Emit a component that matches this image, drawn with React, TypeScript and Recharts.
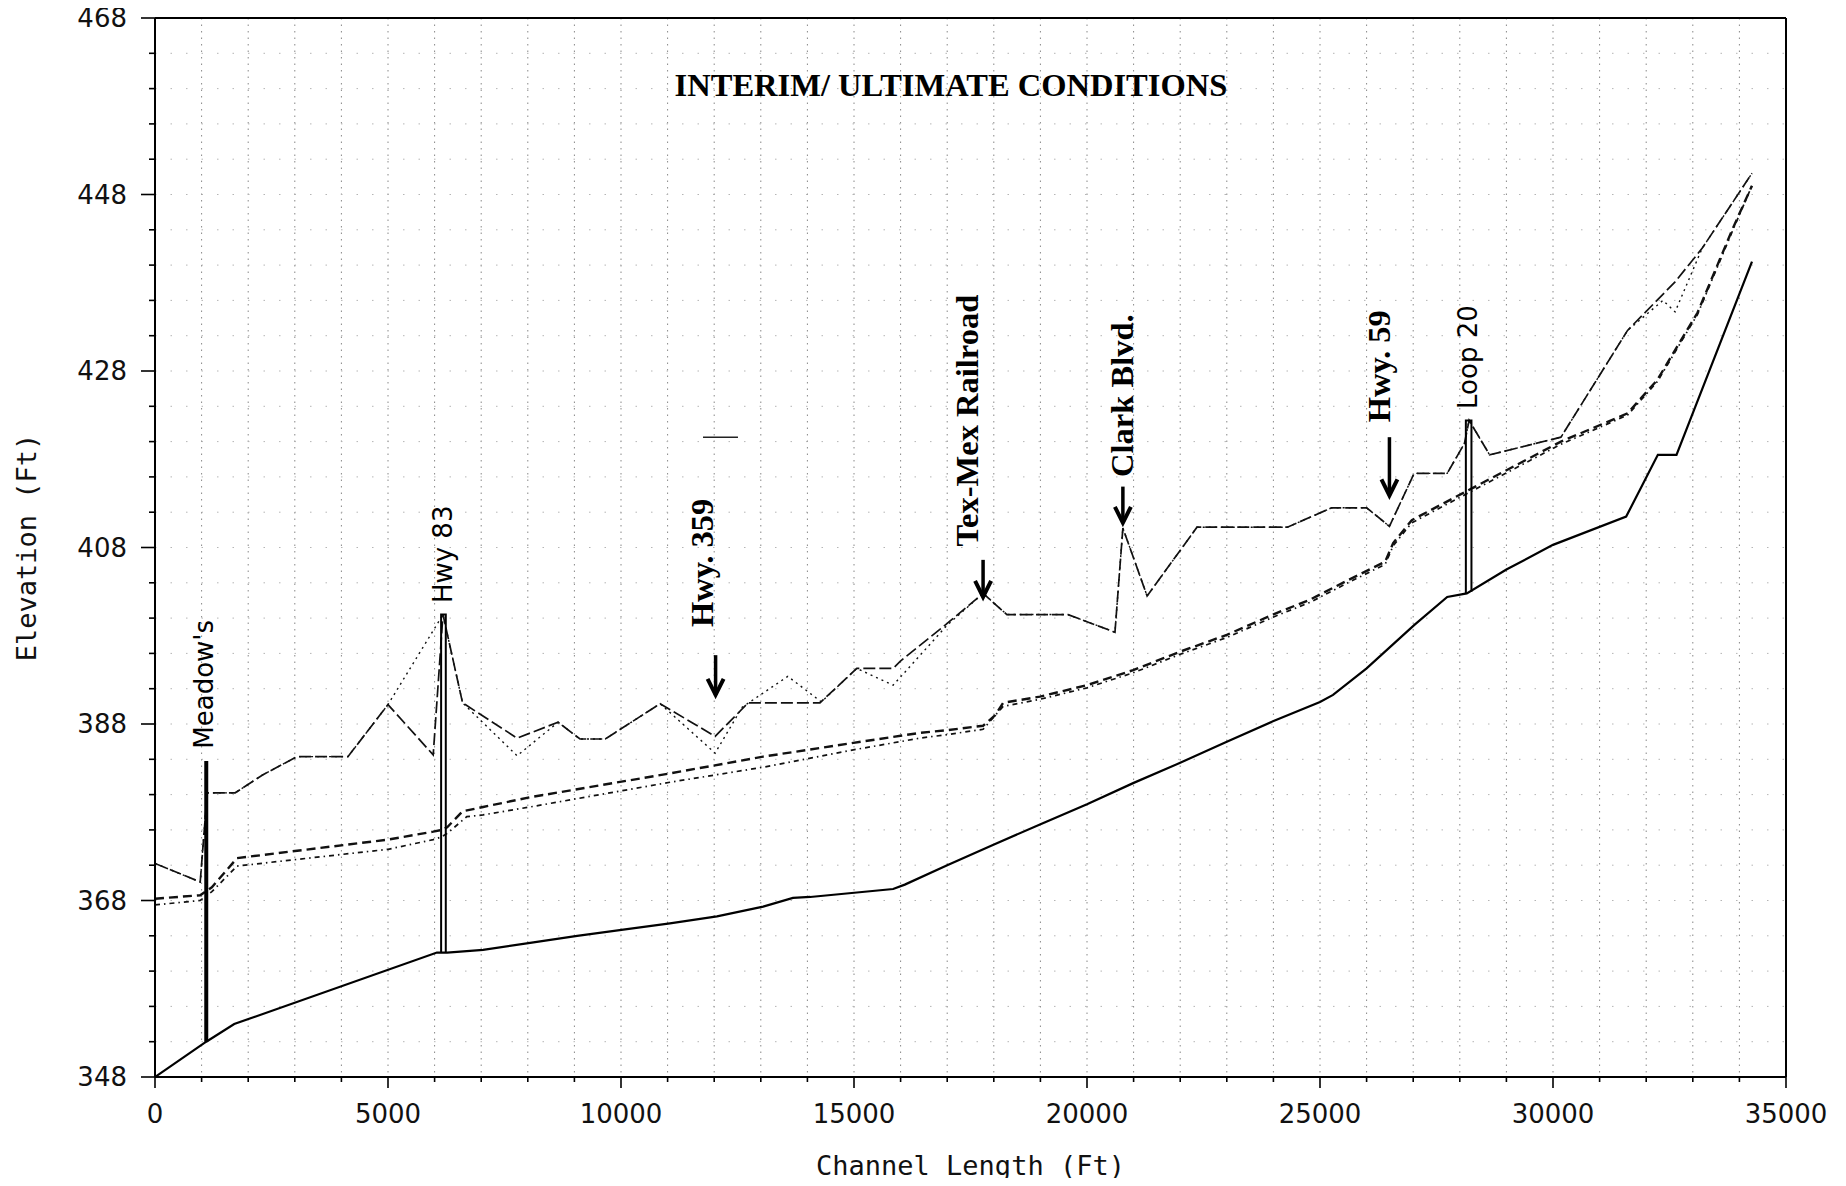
import React from 'react';
import { LineChart, Line, XAxis, YAxis, CartesianGrid, ReferenceLine, ReferenceDot } from 'recharts';

// Channel profile, stations and elevations in feet
const bedStation = [0, 1100, 1700, 6050, 6270, 7040, 8050, 9060, 10050, 11050, 12060, 13050, 13690, 14060, 15840, 16090, 17000, 17980, 18990, 20000, 20990, 22000, 23000, 23990, 25000, 25280, 26000, 27020, 27730, 28150, 29000, 30000, 31570, 32250, 32650, 34270];
const bedElev = [348.0, 352.0, 354.0, 362.1, 362.1, 362.4, 363.2, 364.0, 364.7, 365.4, 366.2, 367.3, 368.3, 368.4, 369.3, 369.8, 372.0, 374.3, 376.6, 378.9, 381.3, 383.6, 386.0, 388.3, 390.5, 391.3, 394.3, 399.2, 402.4, 402.8, 405.5, 408.3, 411.5, 418.5, 418.5, 440.4];

const upperDashStation = [0, 970, 1120, 1720, 2300, 3050, 4140, 5000, 5970, 6180, 6600, 7770, 8650, 9120, 9660, 10840, 12020, 12730, 14270, 15060, 15840, 15990, 17000, 17770, 18280, 19590, 20600, 20770, 21290, 22360, 24300, 25250, 26000, 26490, 27020, 27730, 28100, 28200, 28640, 30170, 31600, 32620, 33200, 34270];
const upperDashElev = [372.2, 370.1, 380.2, 380.2, 382.2, 384.3, 384.3, 390.2, 384.5, 400.4, 390.4, 386.4, 388.2, 386.3, 386.3, 390.3, 386.6, 390.4, 390.4, 394.3, 394.3, 395.1, 399.4, 402.8, 400.4, 400.4, 398.4, 410.2, 402.5, 410.3, 410.3, 412.5, 412.5, 410.4, 416.4, 416.4, 419.8, 422.4, 418.5, 420.5, 432.6, 438.1, 441.9, 450.4];

const upperDotStation = [0, 970, 1120, 1720, 2300, 3050, 4140, 5000, 6180, 6600, 7770, 8650, 9120, 9660, 10840, 12020, 12600, 13580, 14300, 15060, 15840, 17000, 17770, 18280, 19590, 20600, 20770, 21290, 22360, 24300, 25250, 26000, 26490, 27020, 27730, 28100, 28200, 28640, 30170, 31600, 32360, 32620, 33200, 34270];
const upperDotElev = [372.2, 370.1, 380.2, 380.2, 382.2, 384.3, 384.3, 390.2, 400.4, 390.4, 384.4, 388.2, 386.3, 386.3, 390.3, 384.7, 389.9, 393.4, 390.5, 394.3, 392.4, 399.2, 402.8, 400.4, 400.4, 398.4, 410.2, 402.5, 410.3, 410.3, 412.5, 412.5, 410.4, 416.4, 416.4, 419.8, 422.4, 418.5, 420.5, 432.6, 436.0, 434.7, 441.9, 450.4];

const midDashStation = [0, 970, 1220, 1760, 5000, 5970, 6150, 6270, 6600, 7040, 8050, 11050, 13050, 14910, 16420, 17000, 17770, 18030, 18200, 18990, 20000, 20990, 22000, 23000, 23990, 24790, 25600, 26400, 26570, 26970, 28260, 30170, 31600, 32240, 33100, 33870, 34270];
const midDashElev = [368.2, 368.6, 369.5, 372.8, 374.9, 375.8, 376.0, 376.3, 378.1, 378.6, 379.7, 382.4, 384.3, 385.8, 387.0, 387.3, 387.8, 389.0, 390.4, 391.1, 392.4, 394.1, 396.2, 398.1, 400.4, 402.1, 404.3, 406.4, 408.5, 411.1, 414.7, 420.0, 423.2, 427.0, 434.6, 444.3, 449.0];

const midDotStation = [0, 970, 1220, 1760, 5000, 5970, 6150, 6270, 6690, 7040, 8050, 11050, 13050, 14910, 16420, 17000, 17770, 18200, 18990, 20000, 20990, 22000, 23000, 23990, 24790, 25600, 26400, 26570, 26970, 28260, 30170, 31600, 32240, 33100, 33870, 34270];
const midDotElev = [367.5, 368.0, 369.0, 371.9, 373.8, 374.9, 375.2, 375.6, 377.5, 377.7, 378.6, 381.4, 383.1, 385.0, 386.4, 386.8, 387.4, 390.0, 390.8, 392.1, 393.8, 395.9, 397.8, 400.1, 401.8, 404.0, 406.1, 408.2, 410.8, 414.4, 419.7, 423.0, 426.8, 434.4, 444.1, 449.0];

// bridge openings
const meadowsStation = [1100, 1100];
const meadowsElev = [352.0, 383.8];
const hwy83Station = [6140, 6140, 6240, 6240];
const hwy83Elev = [362.1, 400.4, 400.4, 362.1];
const loop20Station = [28130, 28130, 28250, 28250];
const loop20Elev = [402.8, 422.4, 422.4, 403.0];

// crossing labels (station of text baseline, elevation where text starts)
const labelText = ["Meadow's", 'Hwy 83', 'Hwy. 359', 'Tex-Mex Railroad', 'Clark Blvd.', 'Hwy. 59', 'Loop 20'];
const labelStation = [1245, 6370, 11970, 17660, 20990, 26500, 28370];
const labelElev = [385.2, 401.7, 399.0, 408.1, 416.0, 422.2, 423.7];
const labelBold = [false, false, true, true, true, true, false];

const arrowStation = [12030, 17770, 20770, 26490];
const arrowTip = [391.3, 402.4, 410.8, 413.9];
const arrowTop = [395.8, 406.6, 414.9, 420.5];

const xMajorTicks = [0, 5000, 10000, 15000, 20000, 25000, 30000, 35000];
const yMajorTicks = [348, 368, 388, 408, 428, 448, 468];
const xMinorTicks = Array.from({ length: 36 }, (_, i) => i * 1000);
const yMinorTicks = Array.from({ length: 31 }, (_, i) => 348 + i * 4);

const toPoints = (xs: number[], ys: number[]) => xs.map((x, i) => ({ x, y: ys[i] }));

const bed = toPoints(bedStation, bedElev);
const upperDash = toPoints(upperDashStation, upperDashElev);
const upperDot = toPoints(upperDotStation, upperDotElev);
const midDash = toPoints(midDashStation, midDashElev);
const midDot = toPoints(midDotStation, midDotElev);
const meadows = toPoints(meadowsStation, meadowsElev);
const hwy83 = toPoints(hwy83Station, hwy83Elev);
const loop20 = toPoints(loop20Station, loop20Elev);

const XTick = (props: any) => {
  const { x, y, payload } = props;
  const major = xMajorTicks.includes(payload.value);
  return (
    <g>
      <line x1={x} y1={y} x2={x} y2={y + (major ? 11 : 5)} stroke="#000" strokeWidth={1.6} />
      {major && (
        <text x={x} y={y + 46} textAnchor="middle" fontFamily="DejaVu Sans" fontSize={26} fill="#111">
          {payload.value}
        </text>
      )}
    </g>
  );
};

const YTick = (props: any) => {
  const { x, y, payload } = props;
  const major = yMajorTicks.includes(payload.value);
  return (
    <g>
      <line x1={x} y1={y} x2={x - (major ? 14 : 6)} y2={y} stroke="#000" strokeWidth={1.6} />
      {major && (
        <text x={x - 28} y={y} dy="0.36em" textAnchor="end" fontFamily="DejaVu Sans" fontSize={26} fill="#111">
          {payload.value}
        </text>
      )}
    </g>
  );
};

const XLabel = (props: any) => {
  const vb = props.viewBox || {};
  const cx = (vb.x || 0) + (vb.width || 0) / 2;
  const by = (vb.y || 0) + 98;
  return (
    <text x={cx} y={by} textAnchor="middle" fontFamily="DejaVu Sans Mono" fontSize={27} fill="#111">
      Channel Length (Ft)
    </text>
  );
};

const YLabel = (props: any) => {
  const vb = props.viewBox || {};
  const cx = (vb.x || 0) + 18;
  const cy = (vb.y || 0) + (vb.height || 0) / 2;
  return (
    <text x={cx} y={cy} transform={`rotate(-90 ${cx} ${cy})`} textAnchor="middle" dominantBaseline="central"
      fontFamily="DejaVu Sans Mono" fontSize={27} fill="#111">
      Elevation (Ft)
    </text>
  );
};

const lineProps = { type: 'linear' as const, dataKey: 'y', dot: false, activeDot: false, isAnimationActive: false };

export default function App() {
  return (
    <div style={{ width: 1830, height: 1170, background: '#fff' }}>
      <style>{'.recharts-surface{overflow:visible}'}</style>
      <LineChart width={1830} height={1170} margin={{ top: 10, right: 52, bottom: 0, left: 0 }}>
        <CartesianGrid horizontal={false} stroke="#888" strokeDasharray="1.5 5" />
        <CartesianGrid vertical={false} stroke="#b5b5b5" strokeDasharray="1.5 14" />
        <XAxis type="number" dataKey="x" domain={[0, 35000]} ticks={xMinorTicks} interval={0} allowDataOverflow
          height={101} tickSize={0} tickMargin={0} tick={XTick} tickLine={false}
          axisLine={{ stroke: '#000', strokeWidth: 2 }} label={{ content: XLabel }} />
        <YAxis type="number" domain={[348, 468]} ticks={yMinorTicks} interval={0} allowDataOverflow
          width={147} tickSize={0} tickMargin={0} tick={YTick} tickLine={false}
          axisLine={{ stroke: '#000', strokeWidth: 2 }} label={{ content: YLabel }} />
        <ReferenceLine y={468} stroke="#000" strokeWidth={2} />
        <ReferenceLine x={35000} stroke="#000" strokeWidth={2} />

        <Line {...lineProps} data={upperDot} stroke="#111" strokeWidth={1.4} strokeDasharray="2 4" />
        <Line {...lineProps} data={upperDash} stroke="#111" strokeWidth={1.7} strokeDasharray="12 4" />
        <Line {...lineProps} data={midDot} stroke="#111" strokeWidth={1.7} strokeDasharray="5 4 1.5 4" />
        <Line {...lineProps} data={midDash} stroke="#111" strokeWidth={2.4} strokeDasharray="9 5" />
        <Line {...lineProps} data={bed} stroke="#000" strokeWidth={2.2} />
        <Line {...lineProps} data={meadows} stroke="#000" strokeWidth={4} />
        <Line {...lineProps} data={hwy83} stroke="#000" strokeWidth={2} />
        <Line {...lineProps} data={loop20} stroke="#000" strokeWidth={2} />

        <ReferenceLine segment={[{ x: 11760, y: 420.5 }, { x: 12510, y: 420.5 }]} stroke="#222" strokeWidth={1.5} />

        {arrowStation.map((s, i) => (
          <ReferenceLine key={`shaft-${s}`} segment={[{ x: s, y: arrowTop[i] }, { x: s, y: arrowTip[i] }]}
            stroke="#000" strokeWidth={3.5} />
        ))}
        {arrowStation.map((s, i) => (
          <ReferenceDot key={`head-${s}`} x={s} y={arrowTip[i]} r={0}
            shape={(p: any) => (
              <path d={`M ${p.cx - 8} ${p.cy - 16} L ${p.cx} ${p.cy} L ${p.cx + 8} ${p.cy - 16}`}
                fill="none" stroke="#000" strokeWidth={4} />
            )} />
        ))}
        {labelText.map((t, i) => (
          <ReferenceDot key={t} x={labelStation[i]} y={labelElev[i]} r={0}
            shape={(p: any) => (
              <text x={p.cx} y={p.cy} transform={`rotate(-90 ${p.cx} ${p.cy})`}
                fontFamily={labelBold[i] ? 'Liberation Serif' : 'DejaVu Sans'}
                fontWeight={labelBold[i] ? 700 : 400} fontSize={labelBold[i] ? 32.5 : 26} fill="#000">
                {t}
              </text>
            )} />
        ))}
        <ReferenceDot x={17080} y={459.2} r={0}
          shape={(p: any) => (
            <text x={p.cx} y={p.cy} textAnchor="middle" fontFamily="Liberation Serif" fontWeight={700}
              fontSize={32.5} fill="#000">
              INTERIM/ ULTIMATE CONDITIONS
            </text>
          )} />
      </LineChart>
    </div>
  );
}
